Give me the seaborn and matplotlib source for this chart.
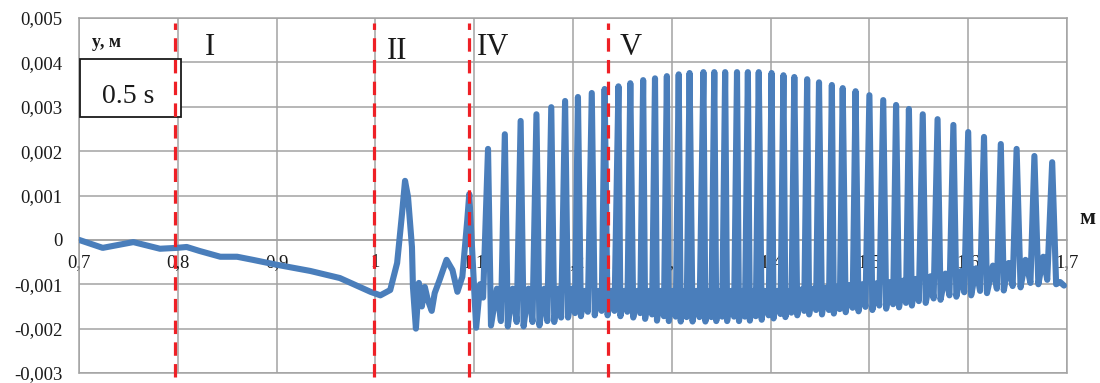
import numpy as np
import matplotlib
matplotlib.use("Agg")
import matplotlib.pyplot as plt
import seaborn as sns
from matplotlib.patches import Rectangle

# vertical deflection y (mm) along the beam x (m)
# smooth part before the oscillations
pre_x = [0.700, 0.724, 0.755, 0.782, 0.799, 0.809, 0.822, 0.843, 0.860, 0.876,
         0.900, 0.917, 0.934, 0.964, 0.995, 1.005, 1.015, 1.022, 1.027, 1.030,
         1.033, 1.037, 1.038, 1.041, 1.044, 1.047, 1.050, 1.053, 1.057, 1.060,
         1.065, 1.072, 1.078, 1.083, 1.088, 1.093]
pre_y_mm = [0.00, -0.18, -0.05, -0.20, -0.18, -0.16, -0.25, -0.38, -0.38, -0.45,
            -0.56, -0.63, -0.70, -0.86, -1.17, -1.25, -1.13, -0.52, 0.60, 1.33,
            0.97, -0.16, -1.06, -2.00, -0.97, -1.50, -1.06, -1.35, -1.60, -1.20,
            -0.90, -0.45, -0.68, -1.17, -0.83, 0.45]

# oscillation cycles: peak, first trough, bump, second trough
peak_x = [1.095, 1.114, 1.131, 1.147, 1.163, 1.178, 1.192, 1.205, 1.219, 1.232,
          1.246, 1.258, 1.271, 1.283, 1.295, 1.307, 1.318, 1.332, 1.343, 1.354,
          1.366, 1.377, 1.388, 1.401, 1.413, 1.424, 1.437, 1.449, 1.462, 1.473,
          1.486, 1.500, 1.514, 1.527, 1.540, 1.554, 1.569, 1.585, 1.600, 1.616,
          1.633, 1.649, 1.667, 1.685]
peak_y_mm = [1.03, 2.05, 2.38, 2.68, 2.83, 2.99, 3.13, 3.22, 3.31, 3.40,
             3.46, 3.53, 3.60, 3.64, 3.69, 3.73, 3.76, 3.78, 3.78, 3.78,
             3.78, 3.78, 3.78, 3.76, 3.71, 3.67, 3.62, 3.55, 3.49, 3.42,
             3.35, 3.26, 3.15, 3.04, 2.95, 2.83, 2.72, 2.59, 2.43, 2.32,
             2.16, 2.05, 1.89, 1.75]
trough1_x = [1.102, 1.117, 1.134, 1.150, 1.166, 1.181, 1.195, 1.208, 1.222, 1.235,
             1.248, 1.261, 1.273, 1.285, 1.297, 1.309, 1.321, 1.334, 1.345, 1.356,
             1.368, 1.379, 1.391, 1.403, 1.415, 1.427, 1.439, 1.452, 1.464, 1.476,
             1.489, 1.503, 1.517, 1.530, 1.543, 1.557, 1.572, 1.588, 1.603, 1.619,
             1.636, 1.653, 1.671, 1.689]
trough1_y_mm = [-1.98, -1.93, -1.95, -1.95, -1.93, -1.85, -1.75, -1.72, -1.70, -1.70,
                -1.72, -1.75, -1.78, -1.82, -1.83, -1.84, -1.84, -1.84, -1.83, -1.83,
                -1.83, -1.82, -1.80, -1.77, -1.74, -1.70, -1.68, -1.68, -1.66, -1.63,
                -1.61, -1.58, -1.55, -1.52, -1.48, -1.42, -1.35, -1.28, -1.25, -1.20,
                -1.14, -1.07, -1.00, -1.00]
bump_x = [1.106, 1.123, 1.139, 1.155, 1.171, 1.185, 1.199, 1.212, 1.226, 1.239,
          1.252, 1.265, 1.277, 1.289, 1.301, 1.313, 1.325, 1.338, 1.349, 1.360,
          1.372, 1.383, 1.394, 1.407, 1.419, 1.431, 1.443, 1.456, 1.468, 1.480,
          1.493, 1.507, 1.521, 1.534, 1.547, 1.562, 1.577, 1.593, 1.608, 1.625,
          1.641, 1.658, 1.676, 1.693]
bump_y_mm = [-1.00, -1.10, -1.10, -1.10, -1.10, -1.10, -1.10, -1.15, -1.15, -1.15,
             -1.15, -1.15, -1.15, -1.15, -1.15, -1.15, -1.15, -1.15, -1.15, -1.15,
             -1.15, -1.15, -1.15, -1.15, -1.15, -1.12, -1.10, -1.08, -1.05, -1.02,
             -1.00, -0.98, -0.95, -0.92, -0.88, -0.82, -0.76, -0.70, -0.64, -0.58,
             -0.52, -0.45, -0.38, -0.95]
trough2_x = [1.109, 1.127, 1.143, 1.159, 1.174, 1.188, 1.202, 1.215, 1.229, 1.242,
             1.255, 1.268, 1.280, 1.292, 1.304, 1.315, 1.328, 1.340, 1.351, 1.363,
             1.374, 1.385, 1.398, 1.410, 1.421, 1.434, 1.446, 1.459, 1.470, 1.483,
             1.496, 1.510, 1.524, 1.537, 1.550, 1.565, 1.581, 1.596, 1.612, 1.629,
             1.645, 1.663, 1.680, 1.697]
trough2_y_mm = [-1.30, -1.83, -1.85, -1.85, -1.83, -1.75, -1.65, -1.62, -1.60, -1.60,
                -1.62, -1.65, -1.68, -1.72, -1.73, -1.74, -1.74, -1.74, -1.73, -1.73,
                -1.73, -1.72, -1.70, -1.67, -1.64, -1.60, -1.58, -1.58, -1.56, -1.53,
                -1.51, -1.48, -1.45, -1.42, -1.38, -1.32, -1.25, -1.18, -1.15, -1.10,
                -1.04, -0.97, -0.90, -1.03]

# zone borders and labels
zone_x = [0.797, 0.999, 1.095, 1.235]
zone_labels = ["I", "II", "IV", "V"]
zone_label_x = [0.8326, 1.0219, 1.119, 1.2587]
zone_label_y = [0.00417, 0.00408, 0.00417, 0.00417]

x_ticks = [0.7, 0.8, 0.9, 1.0, 1.1, 1.2, 1.3, 1.4, 1.5, 1.6, 1.7]
x_tick_labels = ["0,7", "0,8", "0,9", "1", "1,1", "1,2", "1,3", "1,4", "1,5", "1,6", "1,7"]
y_ticks = [-0.003, -0.002, -0.001, 0, 0.001, 0.002, 0.003, 0.004, 0.005]
y_tick_labels = ["-0,003", "-0,002", "-0,001", "0", "0,001", "0,002", "0,003", "0,004", "0,005"]

cyc_x = np.column_stack([peak_x, trough1_x, bump_x, trough2_x]).ravel()
cyc_y = np.column_stack([peak_y_mm, trough1_y_mm, bump_y_mm, trough2_y_mm]).ravel()
x = np.concatenate([pre_x, cyc_x])
y = np.concatenate([pre_y_mm, cyc_y]) / 1000.0

sns.set_style("white")
plt.rcParams["font.family"] = ["Liberation Serif", "DejaVu Serif"]

grid_c = "#a3a3a3"
fig = plt.figure(figsize=(11, 3.83), dpi=100)
ax = fig.add_axes([79 / 1100, 10 / 383, 988 / 1100, 355 / 383])

sns.lineplot(x=x, y=y, ax=ax, color="#4a7ebb", linewidth=4.4,
             estimator=None, sort=False, zorder=3)

ax.set_xlim(0.7, 1.7)
ax.set_ylim(-0.003, 0.005)
ax.set_xticks(x_ticks)
ax.set_xticklabels(x_tick_labels)
ax.set_yticks(y_ticks)
ax.set_yticklabels(y_tick_labels)
ax.grid(True, color=grid_c, linewidth=1.1)
ax.set_axisbelow(True)
for s in ax.spines.values():
    s.set_color(grid_c)
    s.set_linewidth(1.1)
ax.spines["bottom"].set_position(("data", 0))
ax.axhline(-0.003, color=grid_c, linewidth=1.1, clip_on=False)
ax.tick_params(axis="both", length=0, labelsize=13.5, labelcolor="#1a1a1a")
ax.tick_params(axis="x", pad=10)
ax.tick_params(axis="y", pad=12)
ax.set_xlabel("")
ax.set_ylabel("")

vl = ax.vlines(zone_x, -0.00309, 0.00489, colors="#ee2026", linewidth=2.3,
               linestyles=[(0, (4.2, 2.6))], zorder=5)
vl.set_clip_on(False)

for lx, ly, lab in zip(zone_label_x, zone_label_y, zone_labels):
    ax.text(lx, ly, lab, ha="center", va="baseline", fontsize=22, color="#1a1a1a")

ax.add_patch(Rectangle((0.701, 0.00277), 0.1022, 0.00131, facecolor="white",
                       edgecolor="#1a1a1a", linewidth=1.3, zorder=4))
ax.text(0.7496, 0.00309, "0.5 s", ha="center", va="baseline", fontsize=20,
        color="#1a1a1a", zorder=6)
ax.text(0.7132, 0.00435, "y, м", ha="left", va="baseline", fontsize=13,
        fontweight="bold", color="#1a1a1a")
ax.text(1.721, 0.00035, "м", ha="center", va="baseline", fontsize=17,
        fontweight="bold", color="#1a1a1a", clip_on=False)

fig.savefig("out.png", dpi=100)
